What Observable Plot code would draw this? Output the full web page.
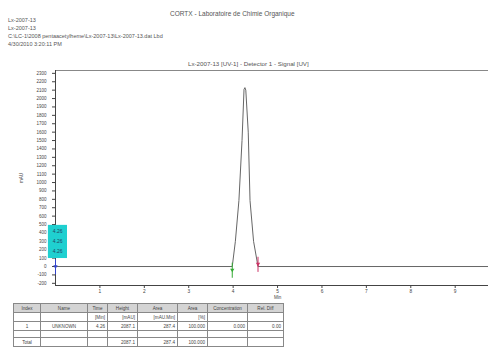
<!DOCTYPE html>
<html>
<head>
<meta charset="utf-8">
<script src="https://cdn.jsdelivr.net/npm/d3@7"></script>
<script src="https://cdn.jsdelivr.net/npm/@observablehq/plot@0.6"></script>
<style>
  body { margin: 0; background: #fff; width: 488px; height: 347px; overflow: hidden; position: relative; font-family: "Liberation Sans", Arial, sans-serif; color: #444; }
  .t { position: absolute; font-size: 5.5px; white-space: nowrap; color: #555; }
  #chart { position: absolute; left: 0; top: 56px; }
  table { position: absolute; left: 13px; top: 303px; border-collapse: collapse; font-size: 4.6px; color: #444; }
  td { border: 1px solid #888; height: 8px; padding: 0 2px; text-align: right; white-space: nowrap; }
  tr.h td { background: #d4d4d4; text-align: center; }
  tr.gap td { height: 6px; }
</style>
</head>
<body>
<div class="t" style="left:170px;top:10px;font-size:6.5px">CORTX - Laboratoire de Chimie Organique</div>
<div class="t" style="left:8px;top:17px">Lx-2007-13</div>
<div class="t" style="left:8px;top:25px">Lx-2007-13</div>
<div class="t" style="left:8px;top:33px">C:\LC-1\2008 pentaacetylheme\Lx-2007-13\Lx-2007-13.dat Lbd</div>
<div class="t" style="left:8px;top:41px">4/30/2010 3:20:11 PM</div>
<div class="t" style="left:188px;top:60px;font-size:6.2px">Lx-2007-13 [UV-1] - Detector 1 - Signal [UV]</div>
<div id="chart"></div>
<table id="tbl"></table>
<script>
// Chromatogram signal (time in min, signal in mAU)
const times   = [0, 3.98, 4.05, 4.13, 4.20, 4.245, 4.265, 4.285, 4.34, 4.38, 4.46, 4.56, 9.75];
const signals = [0, 0,    300,  785,  1500, 2110,  2130,  2100,  1600, 785,  300,  0,    0];
const xTicks = [1, 2, 3, 4, 5, 6, 7, 8, 9];
const yTicks = d3.range(-200, 2301, 100);
// integration markers
const markerT = [0, 3.98, 4.56];
const markerV = [0, -40, 30];
const markerC = ["#3344cc", "#33aa33", "#cc3366"];
// overlapping cyan labels at start
const cyanLabels = ["4.26", "4.26", "4.26"];
const cyanV = [420, 300, 180];

const headers = ["Index", "Name", "Time", "Height", "Area", "Area", "Concentration", "Rel. Diff"];
const units   = ["", "", "[Min]", "[mAU]", "[mAU.Min]", "[%]", "", ""];
const row1    = ["1", "UNKNOWN", "4.26", "2087.1", "287.4", "100.000", "0.000", "0.00"];
const totals  = ["Total", "", "", "2087.1", "287.4", "100.000", "", ""];
const colW    = [27, 47, 20, 30, 40, 30, 40, 36];

const sig = times.map((t, i) => ({t, v: signals[i]}));
const marks = markerT.map((t, i) => ({t, v: markerV[i], c: markerC[i]}));
const cyan = cyanLabels.map((s, i) => ({s, v: cyanV[i]}));

const chart = Plot.plot({
  width: 488, height: 250,
  marginLeft: 55, marginRight: 0, marginTop: 14, marginBottom: 21,
  style: {fontFamily: "Liberation Sans, Arial, sans-serif", color: "#444", background: "transparent"},
  x: {domain: [0, 9.75]},
  y: {domain: [-226, 2334]},
  marks: [
    Plot.ruleY([2334], {stroke: "#888"}),
    Plot.ruleY([-226], {stroke: "#444"}),
    Plot.ruleX([0], {stroke: "#444"}),
    Plot.axisX({ticks: xTicks, tickSize: 3, tickPadding: 1, fontSize: 4.8, label: null, tickFormat: d => String(d)}),
    Plot.text(["Min"], {x: 5, frameAnchor: "bottom", dy: 13, fontSize: 4.5}),
    Plot.axisY({ticks: yTicks, tickSize: 3, fontSize: 4.5, tickFormat: d => String(d), label: "mAU", labelAnchor: "center", labelArrow: "none", labelOffset: 36}),
    Plot.line(sig, {x: "t", y: "v", stroke: "#666", strokeWidth: 1}),
    Plot.rect(cyan.slice(0, 1), {x1: () => -0.16, x2: () => 0.27, y1: () => 95, y2: () => 490, fill: "#1fd0d0"}),
    Plot.text(cyan, {x: 0.05, y: "v", text: "s", fontSize: 5, fill: "#246"}),
    Plot.ruleX(marks, {x: "t", y1: d => d.v - 100, y2: d => d.v + 80, stroke: "c"}),
    Plot.dot(marks, {x: "t", y: "v", r: 1.6, fill: "c", symbol: "triangle", rotate: 180}),
  ]
});
document.getElementById("chart").appendChild(chart);

const tbl = document.getElementById("tbl");
function addRow(cells, cls) {
  const tr = document.createElement("tr");
  if (cls) tr.className = cls;
  cells.forEach((c, i) => {
    const td = document.createElement("td");
    td.textContent = c;
    td.style.width = (colW[i] - 5) + "px";
    if (i === 1 && cls !== "h") td.style.textAlign = "center";
    if (i === 0 && cls !== "h") td.style.textAlign = "center";
    tr.appendChild(td);
  });
  tbl.appendChild(tr);
}
addRow(headers, "h");
addRow(units);
addRow(row1);
addRow(headers.map(() => ""), "gap");
addRow(totals);
</script>
</body>
</html>
